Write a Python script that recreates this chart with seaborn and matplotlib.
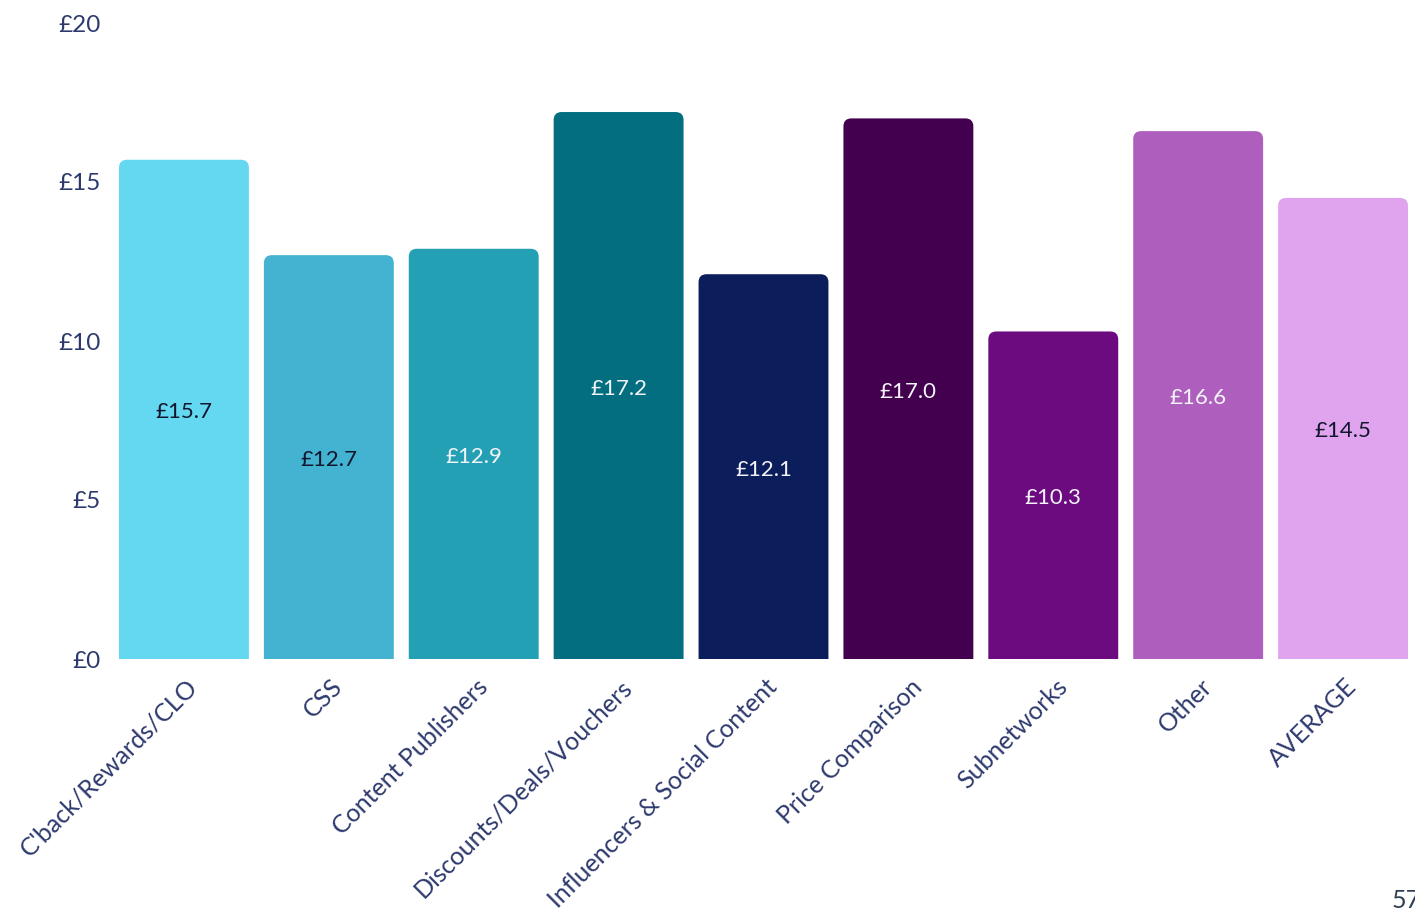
import matplotlib
matplotlib.use("Agg")
import matplotlib.pyplot as plt
from matplotlib.patches import FancyBboxPatch
from matplotlib.transforms import ScaledTranslation, blended_transform_factory
import seaborn as sns
import pandas as pd

# Average order value by publisher type
categories = [
    "C'back/Rewards/CLO",
    "CSS",
    "Content Publishers",
    "Discounts/Deals/Vouchers",
    "Influencers & Social Content",
    "Price Comparison",
    "Subnetworks",
    "Other",
    "AVERAGE",
]
values = [15.7, 12.7, 12.9, 17.2, 12.1, 17.0, 10.3, 16.6, 14.5]
colors = ["#64D8F0", "#43B3D1", "#23A0B4", "#026E80", "#0B1E5B",
          "#42004E", "#6C0A80", "#AE5FBD", "#E0A4EF"]
label_colors = ["#10162E", "#10162E", "#F2F4F8", "#F2F4F8", "#F2F4F8",
                "#F2F4F8", "#F2F4F8", "#F2F4F8", "#10162E"]
y_ticks = [0, 5, 10, 15, 20]
y_tick_labels = ["£0", "£5", "£10", "£15", "£20"]

sns.set_theme(style="white")
plt.rcParams["font.family"] = ["Lato", "DejaVu Sans"]

text_navy = "#2E3A6E"

fig = plt.figure(figsize=(14.15, 9.10), dpi=100)
ax = fig.add_axes([111.5 / 1415, 251 / 910, 1304 / 1415, 636 / 910])

df = pd.DataFrame({"category": categories, "value": values})
sns.barplot(data=df, x="category", y="value", hue="category",
            palette=colors, legend=False, width=130 / 145, ax=ax,
            saturation=1)

ax.set_xlim(-0.5, 8.5)
ax.set_ylim(0, 20)

# Replace the square bars with bars that have rounded top corners
px_x = 1304 / 9          # pixels per x unit
px_y = 636 / 20          # pixels per y unit
radius = 8 / px_x
aspect = px_x / px_y
bars = list(ax.patches)
for bar in bars:
    x0, w, h = bar.get_x(), bar.get_width(), bar.get_height()
    fc = bar.get_facecolor()
    bar.remove()
    rounded = FancyBboxPatch((x0, -2), w, h + 2,
                             boxstyle=f"round,pad=0,rounding_size={radius}",
                             mutation_aspect=aspect, facecolor=fc,
                             edgecolor="none", linewidth=0)
    ax.add_patch(rounded)

# Value labels in the middle of each bar
value_shift = ScaledTranslation(0, -3 / 100, fig.dpi_scale_trans)
for i, (v, c) in enumerate(zip(values, label_colors)):
    ax.text(i, v / 2, f"£{v:.1f}", ha="center", va="center",
            fontsize=16, color=c, transform=ax.transData + value_shift)

ax.set_yticks(y_ticks)
ax.set_yticklabels(y_tick_labels, fontsize=17.5, color=text_navy)
ax.tick_params(axis="y", length=0, pad=8)

# Category names, rotated under each bar
ax.set_xticks(range(len(categories)))
ax.set_xticklabels([])
ax.tick_params(axis="x", length=0)
base = blended_transform_factory(ax.transData, ax.transAxes)
shift = ScaledTranslation(10 / 100, -24 / 100, fig.dpi_scale_trans)
for i, name in enumerate(categories):
    ax.text(i, 0, name, transform=base + shift, rotation=45,
            rotation_mode="anchor", ha="right", va="center",
            fontsize=18, color=text_navy, clip_on=False)

ax.set_xlabel("")
ax.set_ylabel("")
for s in ax.spines.values():
    s.set_visible(False)
ax.grid(False)

# Page number at the bottom right corner
fig.text(1392 / 1415, 10 / 910, "57", ha="left", va="center",
         fontsize=18, color="#2F3E50")

fig.savefig("out.png", dpi=100)
